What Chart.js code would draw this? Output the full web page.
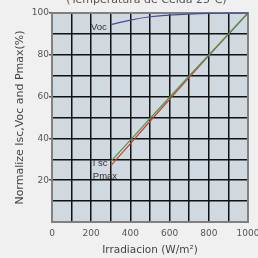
<!DOCTYPE html>
<html>
<head>
<meta charset="utf-8">
<script src="https://cdn.jsdelivr.net/npm/chart.js@4/dist/chart.umd.min.js"></script>
<style>
  html, body { margin: 0; padding: 0; background: #f0f0f0; }
  #wrap { width: 258px; height: 258px; position: relative; }
</style>
</head>
<body>
<div id="wrap"><canvas id="c" width="258" height="258"></canvas></div>
<script>
// ---- data ----
const irradiance = [300, 400, 500, 600, 700, 800, 900, 1000];
const vocValues  = [94.4, 96.6, 98.2, 99.0, 99.5, 99.8, 99.9, 100];
const iscValues  = [29, 39.2, 49.6, 59.7, 69.9, 80, 90, 100];
const pmaxValues = [27, 37.5, 48.2, 58.7, 69.2, 79.6, 89.8, 100];
const xTickLabels = [0, 200, 400, 600, 800, 1000];
const yTickLabels = [20, 40, 60, 80, 100];
const chartTitle = '(Temperatura de Celda 25\u2103)';
const xTitle = 'Irradiacion (W/m\u00b2)';
const yTitle = 'Normalize Isc,Voc and Pmax(%)';
const seriesNames = ['Voc', 'I sc', 'Pmax'];

const toXY = (vals) => irradiance.map((x, i) => ({ x: x, y: vals[i] }));
const FONT = 'DejaVu Sans';

const decor = {
  id: 'decor',
  beforeDraw(chart) {
    const { ctx, chartArea: a } = chart;
    ctx.save();
    ctx.fillStyle = '#f0f0f0';
    ctx.fillRect(0, 0, chart.width, chart.height);
    ctx.fillStyle = '#d0d8e0';
    ctx.fillRect(a.left, a.top, a.right - a.left, a.bottom - a.top);
    ctx.restore();
  },
  beforeDatasetsDraw(chart) {
    const { ctx, chartArea: a } = chart;
    ctx.save();
    ctx.strokeStyle = '#808080';
    ctx.lineWidth = 2;
    ctx.strokeRect(a.left, a.top, a.right - a.left, a.bottom - a.top);
    ctx.restore();
  },
  afterDatasetsDraw(chart) {
    const { ctx } = chart;
    const xs = chart.scales.x, ys = chart.scales.y;
    ctx.save();
    ctx.font = '11px ' + FONT;
    ctx.fillStyle = '#555';
    ctx.textAlign = 'center';
    ctx.textBaseline = 'alphabetic';
    ctx.fillText(chartTitle, 146.5, 2.5);
    ctx.font = '9.5px "Liberation Sans"';
    ctx.fillStyle = '#333';
    ctx.textBaseline = 'middle';
    const x0 = xs.getPixelForValue(irradiance[0]);
    ctx.textAlign = 'right';
    ctx.fillText(seriesNames[0], x0 - 4, ys.getPixelForValue(vocValues[0]) + 2.5);
    ctx.textAlign = 'left';
    ctx.fillText(seriesNames[1], x0 - 18, ys.getPixelForValue(iscValues[0]) + 2);
    ctx.fillText(seriesNames[2], x0 - 18, ys.getPixelForValue(pmaxValues[0]) + 10.5);
    ctx.restore();
  }
};

new Chart(document.getElementById('c'), {
  type: 'line',
  data: {
    datasets: [
      { label: 'Voc', data: toXY(vocValues), borderColor: '#4a4a9c', borderWidth: 1.2,
        pointRadius: 0, tension: 0.4, fill: false },
      { label: 'Isc', data: toXY(iscValues), borderColor: '#3f9a55', borderWidth: 1.2,
        pointRadius: 0, fill: false },
      { label: 'Pmax', data: toXY(pmaxValues), borderColor: '#d23c2a', borderWidth: 1.2,
        pointRadius: 0, fill: false }
    ]
  },
  options: {
    responsive: false,
    animation: false,
    clip: false,
    layout: { padding: { top: 13, right: 10, left: 0, bottom: 0 } },
    plugins: { legend: { display: false }, tooltip: { enabled: false }, title: { display: false } },
    scales: {
      x: {
        type: 'linear', min: 0, max: 1000,
        afterFit(s) { s.height = 36; s.paddingLeft = 0; s.paddingRight = 0; },
        border: { display: false },
        grid: { color: '#111', lineWidth: 1.5, drawTicks: false },
        ticks: {
          stepSize: 100, padding: 6, color: '#555', maxRotation: 0, autoSkip: false,
          font: { family: FONT, size: 9 },
          callback: (v) => xTickLabels.includes(v) ? String(v) : ''
        },
        title: { display: true, text: xTitle, color: '#444',
          font: { family: FONT, size: 10.5 }, padding: { top: 0, bottom: 1 } }
      },
      y: {
        min: 0, max: 100,
        afterFit(s) { s.width = 52; s.paddingTop = 0; s.paddingBottom = 0; },
        border: { display: false },
        grid: {
          color: '#111', lineWidth: 1.5, drawTicks: true, tickLength: 3,
          tickColor: (c) => yTickLabels.includes(c.tick && c.tick.value) ? '#555' : 'rgba(0,0,0,0)'
        },
        ticks: {
          stepSize: 10, padding: 0, color: '#555', autoSkip: false,
          font: { family: FONT, size: 9 },
          callback: (v) => yTickLabels.includes(v) ? String(v) : ''
        },
        title: { display: true, text: yTitle, color: '#444',
          font: { family: FONT, size: 11 }, padding: { top: 14, bottom: 0 } }
      }
    }
  },
  plugins: [decor]
});
</script>
</body>
</html>
